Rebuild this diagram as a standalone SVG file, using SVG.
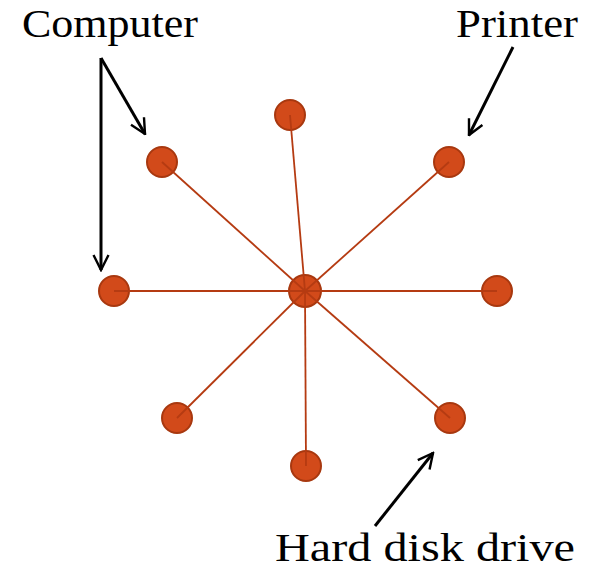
<svg xmlns="http://www.w3.org/2000/svg" width="594" height="571" viewBox="0 0 594 571">
<defs>
<style>
.node{fill:#D24A1A;stroke:#A8380F;stroke-width:2}
.link{stroke:#B53B12;stroke-width:1.8;fill:none}
.arrow{stroke:#000;stroke-width:3;fill:none;stroke-linecap:butt}
.lbl{font-family:"Liberation Serif",serif;font-size:40px;fill:#000}
</style>
<marker id="ah" viewBox="0 0 12 12" refX="11" refY="6" markerWidth="6" markerHeight="6" orient="auto" markerUnits="strokeWidth">
<path d="M1,1 L11,6 L1,11" fill="none" stroke="#000" stroke-width="1.6"/>
</marker>
</defs>
<rect width="594" height="571" fill="#fff"/>
<g id="n-center"><circle class="node" cx="305" cy="291" r="16"/></g>
<g id="n-top"><circle class="node" cx="290" cy="115" r="15"/></g>
<g id="n-ul"><circle class="node" cx="162" cy="162" r="15"/></g>
<g id="n-ur"><circle class="node" cx="449" cy="162" r="15"/></g>
<g id="n-left"><circle class="node" cx="114" cy="291" r="15"/></g>
<g id="n-right"><circle class="node" cx="497" cy="291" r="15"/></g>
<g id="n-ll"><circle class="node" cx="177" cy="418" r="15"/></g>
<g id="n-lr"><circle class="node" cx="450" cy="418" r="15"/></g>
<g id="n-bottom"><circle class="node" cx="306" cy="466" r="15"/></g>
<g id="connectors">
<line class="link" x1="305" y1="291" x2="290" y2="115"/>
<line class="link" x1="305" y1="291" x2="162" y2="162"/>
<line class="link" x1="305" y1="291" x2="449" y2="162"/>
<line class="link" x1="305" y1="291" x2="114" y2="291"/>
<line class="link" x1="305" y1="291" x2="497" y2="291"/>
<line class="link" x1="305" y1="291" x2="177" y2="418"/>
<line class="link" x1="305" y1="291" x2="450" y2="418"/>
<line class="link" x1="305" y1="291" x2="306" y2="466"/>
<line class="arrow" x1="101" y1="58" x2="145" y2="134" marker-end="url(#ah)"/>
<line class="arrow" x1="101" y1="58" x2="101" y2="270" marker-end="url(#ah)"/>
<line class="arrow" x1="513" y1="47" x2="469" y2="135" marker-end="url(#ah)"/>
<line class="arrow" x1="375" y1="526" x2="433" y2="453" marker-end="url(#ah)"/>
</g>
<g id="labels">
<text class="lbl" x="22" y="37" textLength="176" lengthAdjust="spacingAndGlyphs">Computer</text>
<text class="lbl" x="456" y="37" textLength="122" lengthAdjust="spacingAndGlyphs">Printer</text>
<text class="lbl" x="275" y="561" textLength="300" lengthAdjust="spacingAndGlyphs">Hard disk drive</text>
</g>
</svg>
